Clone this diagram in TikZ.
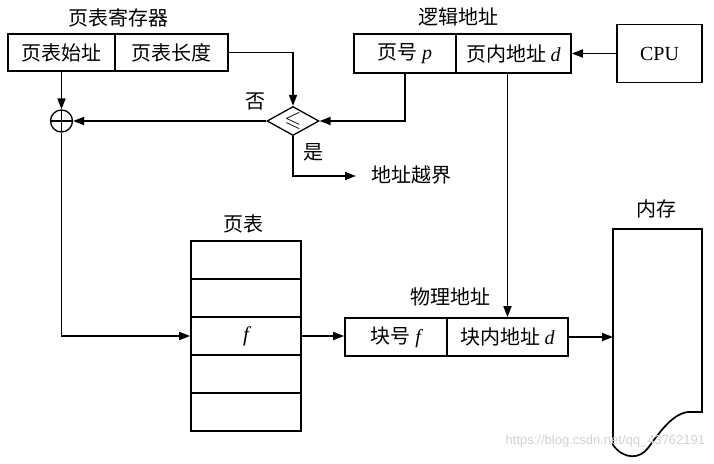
\documentclass[tikz,border=0pt]{standalone}
\usepackage{amssymb}
\usepackage{fontspec}
\setmainfont{Liberation Serif}
\newfontfamily\cjk{Noto Sans CJK SC}
\newfontfamily\wmfont{Liberation Sans}
\newcommand\latit[1]{{\rmfamily\itshape #1}}
\usetikzlibrary{arrows.meta,shapes.geometric}
\begin{document}
\begin{tikzpicture}[x=1pt,y=-1pt,
  line width=1.7pt,
  txt/.style={font=\cjk\fontsize{20}{20}\selectfont, inner sep=0pt},
  cell/.style={draw, rectangle, inner sep=0pt, font=\cjk\fontsize{20}{20}\selectfont},
  arr/.style={-{Triangle[length=11pt,width=8pt]}}
]
\useasboundingbox (0,0) rectangle (714,463);
% page table register
\node[txt] (regt) at (118,18) {页表寄存器};
\node[cell, minimum width=107pt, minimum height=37pt] (regA) at (61.5,52.5) {页表始址};
\node[cell, minimum width=113pt, minimum height=37pt] (regB) at (171.5,52.5) {页表长度};
% logical address
\node[txt] (logt) at (458,17) {逻辑地址};
\node[cell, minimum width=102pt, minimum height=39pt] (logA) at (405,53.5) {页号 \latit{p}};
\node[cell, minimum width=115pt, minimum height=39pt] (logB) at (513.5,53.5) {页内地址 \latit{d}};
% CPU
\node[draw, rectangle, minimum width=85pt, minimum height=58pt, font=\fontsize{20}{20}\selectfont] (cpu) at (659.5,53.5) {CPU};
% comparator
\node[draw, diamond, aspect=1.8, minimum width=52pt, minimum height=29pt, inner sep=0pt, line width=1.3pt, font=\fontsize{22}{22}\selectfont] (dia) at (293,121) {$\leqslant$};
% adder
\node[draw, circle, minimum size=22pt, inner sep=0pt, line width=1.3pt,
  path picture={\draw[line width=1.3pt] (path picture bounding box.north) -- (path picture bounding box.south) (path picture bounding box.west) -- (path picture bounding box.east);}] (add) at (61.5,121) {};
\node[txt] (no) at (255,101) {否};
\node[txt] (yes) at (313,152) {是};
\node[txt, anchor=west] (oob) at (371,175) {地址越界};
\coordinate (oobin) at (356,176);
% page table
\node[txt] (ptt) at (243,224) {页表};
\foreach \i/\y in {1/260,2/298,3/336,4/374,5/412}{
  \node[cell, minimum width=110pt, minimum height=38pt] (pt\i) at (246,\y) {};
}
\node[font=\fontsize{21}{21}\selectfont\itshape, inner sep=0pt] (fval) at (pt3) {f};
% physical address
\node[txt] (physt) at (450,297) {物理地址};
\node[cell, minimum width=102pt, minimum height=38pt] (physA) at (396,337) {块号 \latit{f}};
\node[cell, minimum width=121pt, minimum height=38pt] (physB) at (507.5,337) {块内地址 \latit{d}};
% memory
\node[txt] (memt) at (656,209) {内存};
\draw (613,445) -- (613,229) -- (702,229) -- (702,412) -- (688,412)
  .. controls (672,414) and (660,432) .. (648,448)
  .. controls (640,459) and (624,460) .. (613,445);
\coordinate (memin) at (613,337);
% connectors
\draw[arr] (cpu.west) -- (logB.east);
\draw[arr] (regB.east) -| (dia.north);
\draw[arr] (logA.south) |- (dia.east);
\draw[arr] (dia.west) -- (add.east);
\draw[arr] (regA.south) -- (add.north);
\draw[arr] (dia.south) |- (oobin);
\draw[arr] (add.south) |- (pt3.west);
\draw[arr] (pt3.east) -- (pt3.east -| physA.west);
\draw[arr] (physB.north |- logB.south) -- (physB.north);
\draw[arr] (physB.east) -- (memin);
% watermark
\node[font=\wmfont\fontsize{13}{13}\selectfont, text=gray!35, anchor=east, inner sep=0pt] (wm) at (706,441) {https://blog.csdn.net/qq\_43762191};
\end{tikzpicture}
\end{document}
